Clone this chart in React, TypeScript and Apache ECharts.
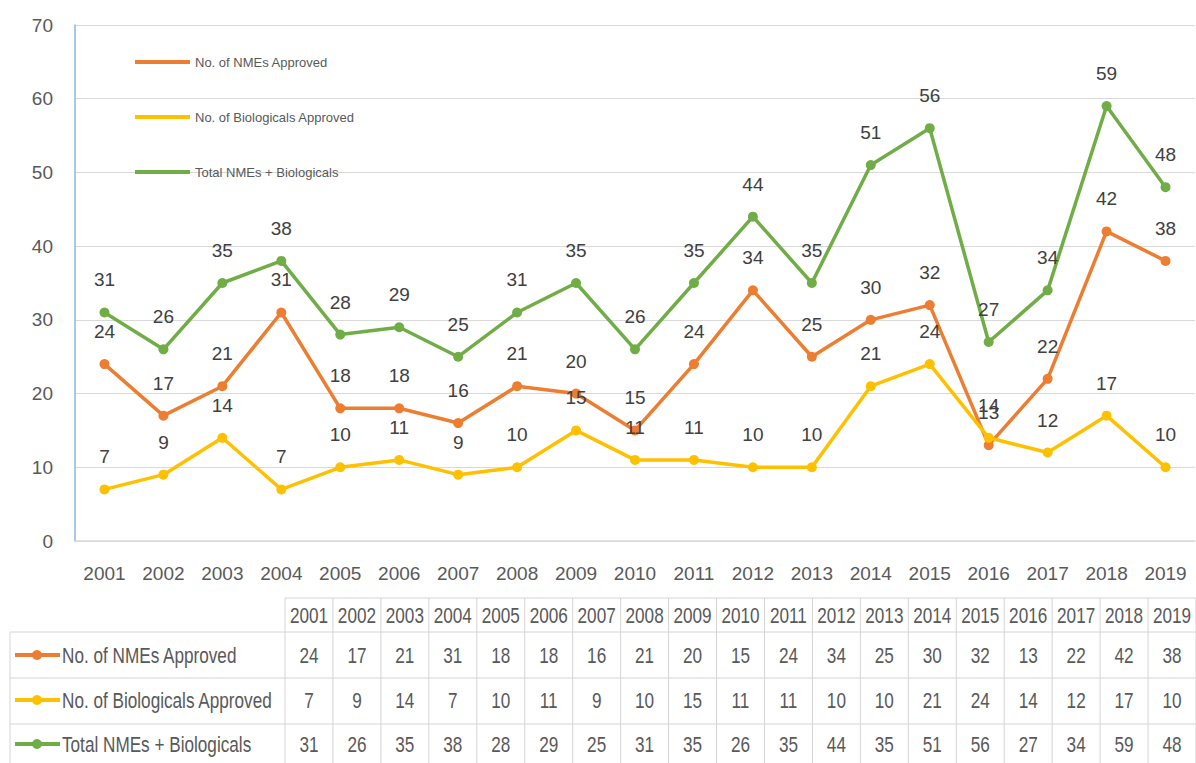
import React, { useEffect, useRef } from "react";
import * as echarts from "echarts";

const years = ["2001","2002","2003","2004","2005","2006","2007","2008","2009","2010","2011","2012","2013","2014","2015","2016","2017","2018","2019"];
const nmes = [24,17,21,31,18,18,16,21,20,15,24,34,25,30,32,13,22,42,38];
const biologicals = [7,9,14,7,10,11,9,10,15,11,11,10,10,21,24,14,12,17,10];
const totals = [31,26,35,38,28,29,25,31,35,26,35,44,35,51,56,27,34,59,48];
const seriesNames = ["No. of NMEs Approved", "No. of Biologicals Approved", "Total NMEs + Biologicals"];
const colors = ["#ED7D31", "#FFC000", "#70AD47"];
const yTicks = { min: 0, max: 70, interval: 10 };

const FONT = "'Liberation Sans', Arial, sans-serif";

function buildTable() {
  const els: any[] = [];
  const tableLeft = 10;
  const colStart = 285;
  const colEnd = 1196;
  const colW = (colEnd - colStart) / years.length;
  const rowsY = [598, 632, 678, 724, 770];
  const lineStyle = { stroke: "#D4D4D4", lineWidth: 1 };
  els.push({ type: "line", shape: { x1: colStart, y1: rowsY[0], x2: colEnd, y2: rowsY[0] }, style: lineStyle, silent: true });
  for (let r = 1; r < rowsY.length; r++) {
    els.push({ type: "line", shape: { x1: tableLeft, y1: rowsY[r], x2: colEnd, y2: rowsY[r] }, style: lineStyle, silent: true });
  }
  els.push({ type: "line", shape: { x1: tableLeft, y1: rowsY[1], x2: tableLeft, y2: rowsY[4] }, style: lineStyle, silent: true });
  for (let c = 0; c <= years.length; c++) {
    const x = colStart + c * colW;
    els.push({ type: "line", shape: { x1: x, y1: rowsY[0], x2: x, y2: rowsY[4] }, style: lineStyle, silent: true });
  }
  const sx = 0.78;
  const txt = { fill: "#595959", font: `22px ${FONT}`, align: "center", verticalAlign: "middle" };
  years.forEach((y, i) => {
    els.push({ type: "text", x: colStart + (i + 0.5) * colW, y: (rowsY[0] + rowsY[1]) / 2, scaleX: sx, style: { ...txt, text: y } });
  });
  const rows = [nmes, biologicals, totals];
  const rowCenters = [655, 700, 744];
  rows.forEach((vals, r) => {
    const cy = rowCenters[r];
    els.push({ type: "line", shape: { x1: 15, y1: cy, x2: 60, y2: cy }, style: { stroke: colors[r], lineWidth: 4 }, silent: true });
    els.push({ type: "circle", shape: { cx: 37, cy, r: 5 }, style: { fill: colors[r] }, silent: true });
    els.push({ type: "text", x: 62, y: cy, scaleX: sx, style: { ...txt, align: "left", text: seriesNames[r] } });
    vals.forEach((v, i) => {
      els.push({ type: "text", x: colStart + (i + 0.5) * colW, y: cy, scaleX: sx, style: { ...txt, text: String(v) } });
    });
  });
  return els;
}

export default function App() {
  const ref = useRef<HTMLDivElement>(null);
  useEffect(() => {
    if (!ref.current) return;
    const chart = echarts.init(ref.current, null, { renderer: "svg" });
    const data = [nmes, biologicals, totals];
    chart.setOption({
      animation: false,
      backgroundColor: "#ffffff",
      grid: { left: 75, right: 1, top: 25, bottom: 222, containLabel: false },
      legend: {
        orient: "vertical",
        left: 130,
        top: 49,
        icon: "rect",
        itemWidth: 55,
        itemHeight: 4,
        itemGap: 39,
        data: seriesNames,
        textStyle: { color: "#595959", fontSize: 13, fontFamily: FONT, lineHeight: 16 },
      },
      xAxis: {
        type: "category",
        data: years,
        boundaryGap: true,
        axisLine: { show: true, lineStyle: { color: "#D9D9D9", width: 1.5 } },
        axisTick: { show: false },
        axisLabel: { color: "#595959", fontSize: 19, fontFamily: FONT, margin: 23 },
      },
      yAxis: {
        type: "value",
        min: yTicks.min,
        max: yTicks.max,
        interval: yTicks.interval,
        axisLine: { show: true, lineStyle: { color: "#8FB4DE", width: 1.5 } },
        axisTick: { show: false },
        axisLabel: { color: "#595959", fontSize: 19, fontFamily: FONT, margin: 22 },
        splitLine: { lineStyle: { color: "#D9D9D9", width: 1 } },
      },
      series: seriesNames.map((name, i) => ({
        name,
        type: "line",
        data: data[i],
        color: colors[i],
        symbol: "circle",
        symbolSize: 10,
        lineStyle: { width: 3.5, color: colors[i] },
        itemStyle: { color: colors[i] },
        label: {
          show: true,
          position: "top",
          distance: 18,
          color: "#404040",
          fontSize: 19,
          fontFamily: FONT,
        },
        z: 2 + i,
      })),
      graphic: buildTable(),
    });
    return () => chart.dispose();
  }, []);
  return <div ref={ref} style={{ position: "fixed", left: 0, top: 0, width: 1196, height: 763 }} />;
}
